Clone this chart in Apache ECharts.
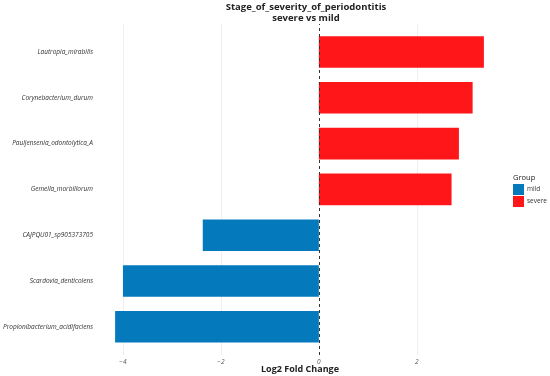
<!DOCTYPE html>
<html><head><meta charset="utf-8">
<script src="https://cdn.jsdelivr.net/npm/echarts@6/dist/echarts.min.js"></script>
<style>html,body{margin:0;padding:0;background:#fff}#c{width:550px;height:376px}</style>
</head><body><div id="c"></div>
<script>
const categories = ["Lautropia_mirabilis","Corynebacterium_durum","Pauljensenia_odontolytica_A","Gemella_morbillorum","CAJPQU01_sp905373705","Scardovia_denticolens","Propionibacterium_acidifaciens"];
const log2fc = [3.37, 3.14, 2.86, 2.71, -2.37, -4.0, -4.16];
const groups = ["severe","severe","severe","severe","mild","mild","mild"];
const groupNames = ["mild","severe"];
const groupColors = {mild:"#0479bb", severe:"#fe1619"};
const xTicks = [-4, -2, 0, 2];
const gridX = [-4, -2, 2];

const FONT = "Open Sans";
const XMIN = -4.54, XMAX = 3.75;
const series = groupNames.map(g => ({
  name: g, type: 'bar', stack: 'all', barWidth: '69%', z: 2,
  itemStyle: {color: groupColors[g]},
  data: log2fc.map((v,i) => groups[i] === g ? v : null)
}));
series.push({
  type: 'line', xAxisIndex: 1, yAxisIndex: 1, data: [], z: 1, silent: true,
  markLine: {
    silent: true, symbol: 'none', label: {show: false}, z: 1,
    data: gridX.map(v => ({xAxis: v})),
    lineStyle: {color: '#ebebeb', width: 0.8, type: 'solid'}
  }
});
series.push({
  type: 'line', xAxisIndex: 1, yAxisIndex: 1, data: [], z: 5, silent: true,
  markLine: {
    silent: true, symbol: 'none', label: {show: false}, z: 5,
    data: [{xAxis: 0}],
    lineStyle: {color: '#333', width: 1, type: [3, 3]}
  }
});
const chart = echarts.init(document.getElementById('c'), null, {renderer: 'canvas'});
chart.setOption({
  animation: false,
  textStyle: {fontFamily: FONT},
  title: {
    text: 'Stage_of_severity_of_periodontitis\nsevere vs mild',
    left: 301, top: -2.5, textAlign: 'center',
    textStyle: {fontFamily: FONT, fontSize: 9.5, fontWeight: 'bold', color: '#222', lineHeight: 10.5}
  },
  grid: [
    {left: 96.5, right: 47.5, top: 29.1, bottom: 26.3, containLabel: false, outerBoundsMode: 'none'},
    {left: 96.5, right: 47.5, top: 24, bottom: 21, containLabel: false, outerBoundsMode: 'none'}
  ],
  xAxis: [{
    type: 'value', min: XMIN, max: XMAX, gridIndex: 0,
    axisLine: {show: false}, axisTick: {show: false}, splitLine: {show: false},
    axisLabel: {customValues: xTicks, fontStyle: 'italic', fontSize: 6.5, color: '#555', margin: 9,
      formatter: v => (v < 0 ? '\u2212' + Math.abs(v) : String(v))}
  }, {
    type: 'value', min: XMIN, max: XMAX, gridIndex: 1, show: false
  }],
  yAxis: [{
    type: 'category', data: categories, inverse: true, gridIndex: 0,
    axisLine: {show: false}, axisTick: {show: false}, splitLine: {show: false},
    axisLabel: {fontStyle: 'italic', fontSize: 6.5, color: '#333', margin: 3.5}
  }, {
    type: 'value', min: 0, max: 1, gridIndex: 1, show: false
  }],
  legend: {
    data: groupNames, orient: 'vertical', left: 513, top: 184,
    itemWidth: 11, itemHeight: 11, itemGap: 1, padding: 0,
    icon: 'rect',
    textStyle: {fontFamily: FONT, fontSize: 6.5, color: '#333', padding: [0,0,0,-2]}
  },
  graphic: [
    {type: 'text', left: 513, top: 174, style: {text: 'Group', font: '7.5px "Open Sans"', fill: '#222'}},
    {type: 'text', x: 300, y: 369, style: {text: 'Log2 Fold Change', font: 'bold 9px "Open Sans"', fill: '#222', align: 'center', verticalAlign: 'middle'}}
  ],
  series: series
});
</script></body></html>
